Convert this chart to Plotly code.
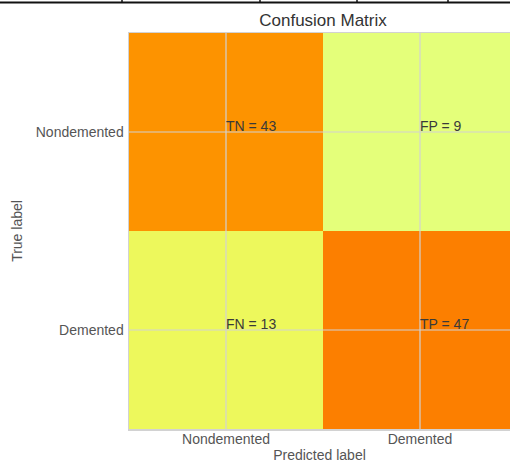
import plotly.graph_objects as go

# ---- data ----
categories = ["Nondemented", "Demented"]
counts = [[43, 9],
          [13, 47]]
cell_tags = [["TN", "FP"],
             ["FN", "TP"]]

# matplotlib "Wistia" colormap
wistia = [[0.0, "#e4ff7a"], [1/3, "#ffe81a"], [2/3, "#ffbd00"], [1.0, "#fc7f00"]]

idx = list(range(len(categories)))
FONT = "Liberation Sans, Arial, Helvetica, sans-serif"
GRID = "#d2d2d2"

fig = go.Figure()
fig.add_trace(go.Heatmap(
    z=counts, x=idx, y=idx, colorscale=wistia, showscale=False,
    hoverinfo="skip",
))

annotations = []
for i in idx:
    for j in idx:
        annotations.append(dict(
            x=j, y=i, xref="x", yref="y",
            text=f"{cell_tags[i][j]} = {counts[i][j]}",
            showarrow=False, xanchor="left", yanchor="bottom",
            yshift=-4, xshift=-2,
            font=dict(family=FONT, size=14, color="#3a3a3a"),
        ))

shapes = []
# grid lines drawn on top of the image (matplotlib style)
for k in idx:
    shapes.append(dict(type="line", xref="x", yref="paper", x0=k, x1=k, y0=0, y1=1,
                       line=dict(color=GRID, width=1.2), layer="above"))
    shapes.append(dict(type="line", xref="paper", yref="y", x0=0, x1=1, y0=k, y1=k,
                       line=dict(color=GRID, width=1.2), layer="above"))

# screenshot border at the very top of the picture
H_PX, W_PX, L_PX, T_PX, B_PX = 463, 510, 129, 33, 34
plot_w = W_PX - L_PX
plot_h = H_PX - T_PX - B_PX
def px_x(p):
    return (p - L_PX) / plot_w
def px_y(p):
    return (H_PX - B_PX - p) / plot_h
shapes.append(dict(type="line", xref="paper", yref="paper",
                   x0=px_x(0), x1=px_x(W_PX), y0=px_y(2.5), y1=px_y(2.5),
                   line=dict(color="#111111", width=2), layer="above"))
for vx in [122, 260, 357, 448]:
    shapes.append(dict(type="line", xref="paper", yref="paper",
                       x0=px_x(vx), x1=px_x(vx), y0=px_y(0), y1=px_y(3),
                       line=dict(color="#111111", width=1.5), layer="above"))

cell_px = 194
fig.update_layout(
    width=W_PX, height=H_PX,
    margin=dict(l=L_PX, r=0, t=T_PX, b=B_PX, pad=0, autoexpand=False),
    paper_bgcolor="white", plot_bgcolor="white",
    title=dict(text="Confusion Matrix", x=(323) / W_PX, xanchor="center",
               y=1 - 20 / H_PX, yanchor="middle",
               font=dict(family=FONT, size=17, color="#333333")),
    xaxis=dict(range=[-0.5, -0.5 + plot_w / cell_px], tickvals=idx, ticktext=categories,
               showgrid=False, zeroline=False, showline=True, mirror=True,
               linecolor=GRID, linewidth=1.5, ticks="", ticklabelstandoff=-3,
               automargin=False,
               tickfont=dict(family=FONT, size=14, color="#555555"),
               title=dict(text="Predicted label", standoff=14,
                          font=dict(family=FONT, size=14, color="#555555"))),
    yaxis=dict(range=[1.5, -0.5], tickvals=idx, ticktext=categories,
               showgrid=False, zeroline=False, showline=True, mirror=False,
               linecolor=GRID, linewidth=1.5, ticks="", ticklabelstandoff=1,
               automargin=False,
               tickfont=dict(family=FONT, size=14, color="#555555"),
               title=dict(text="True label", standoff=10,
                          font=dict(family=FONT, size=14, color="#555555"))),
    annotations=annotations, shapes=shapes,
)

fig.write_html("out.html",
               config={"displayModeBar": False, "staticPlot": True},
               post_script="document.body.style.margin='0';"
                           "document.body.style.overflow='hidden';")
